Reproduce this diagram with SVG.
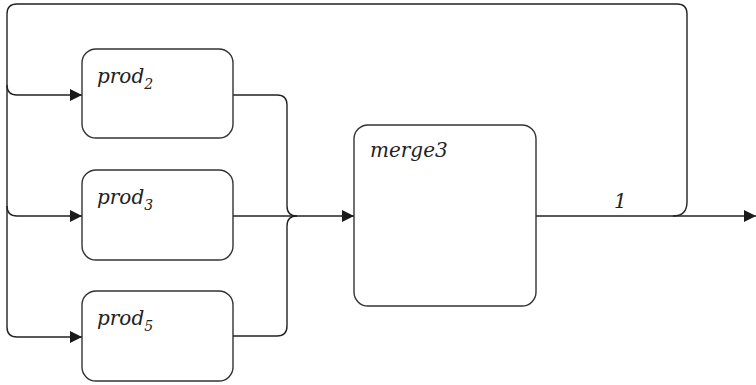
<svg xmlns="http://www.w3.org/2000/svg" width="756" height="385" viewBox="0 0 756 385">
<defs>
<marker id="arr" viewBox="0 0 12 12" refX="12" refY="6" markerWidth="12" markerHeight="12" markerUnits="userSpaceOnUse" orient="auto">
<path d="M0,0 L12,6 L0,12 Z" fill="#1a1a1a"/>
</marker>
</defs>
<style>
.box{fill:#fff;stroke:#333;stroke-width:1.4}
.ln{fill:none;stroke:#222;stroke-width:1.4}
.lbl{font-family:"DejaVu Serif",serif;font-style:italic;font-size:20px;fill:#222}
.sub{font-family:"DejaVu Serif",serif;font-style:italic;font-size:14px;fill:#222}
</style>
<rect width="756" height="385" fill="#fff"/>
<g id="connectors">
<path class="ln" d="M536,216 L756,216" marker-end="url(#arr)"/>
<path class="ln" d="M673,216 Q687,216 687,202 L687,14 Q687,4 677,4 L17,4 Q7,4 7,14 L7,327 Q7,337 17,337 L82,337" marker-end="url(#arr)"/>
<path class="ln" d="M7,85 Q7,95 17,95 L82,95" marker-end="url(#arr)"/>
<path class="ln" d="M7,206 Q7,216 17,216 L82,216" marker-end="url(#arr)"/>
<path class="ln" d="M233,95 L277,95 Q287,95 287,105 L287,206 Q287,216 297,216"/>
<path class="ln" d="M233,336 L277,336 Q287,336 287,326 L287,226 Q287,216 297,216"/>
<path class="ln" d="M233,216 L354,216" marker-end="url(#arr)"/>
<text class="lbl" x="614" y="208">1</text>
</g>
<g id="prod2">
<rect class="box" x="82" y="49" width="151" height="89" rx="14"/>
<text class="lbl" x="97" y="83">prod<tspan class="sub" dy="6">2</tspan></text>
</g>
<g id="prod3">
<rect class="box" x="82" y="170" width="151" height="90" rx="14"/>
<text class="lbl" x="97" y="204">prod<tspan class="sub" dy="6">3</tspan></text>
</g>
<g id="prod5">
<rect class="box" x="82" y="291" width="151" height="90" rx="14"/>
<text class="lbl" x="97" y="325">prod<tspan class="sub" dy="6">5</tspan></text>
</g>
<g id="merge3">
<rect class="box" x="354" y="125" width="182" height="181" rx="14"/>
<text class="lbl" x="370" y="157">merge3</text>
</g>
</svg>
